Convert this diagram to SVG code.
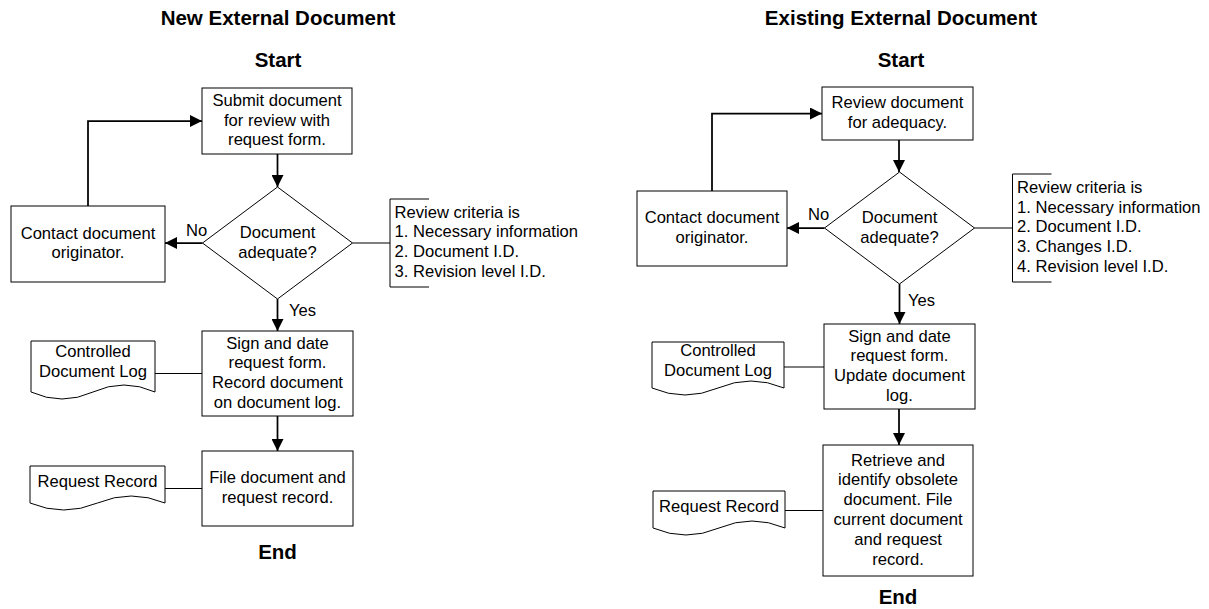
<svg xmlns="http://www.w3.org/2000/svg" width="1209" height="609" viewBox="0 0 1209 609">
  <style>
    .box { fill: #ffffff; stroke: #000000; stroke-width: 1; }
    .t { font-family: "Liberation Sans", Arial, sans-serif; font-size: 16.6px; fill: #000000; }
    .c { text-anchor: middle; }
    .h { font-family: "Liberation Sans", Arial, sans-serif; font-size: 20.5px; font-weight: bold; fill: #000000; text-anchor: middle; }
    .flow { fill: none; stroke: #000000; stroke-width: 1.75; }
    .link { fill: none; stroke: #000000; stroke-width: 1.2; }
    .brk { fill: none; stroke: #000000; stroke-width: 1; }
  </style>
  <defs>
    <marker id="arrow" markerUnits="userSpaceOnUse" markerWidth="12" markerHeight="12" refX="12" refY="6" orient="auto">
      <path d="M0,0 L12,6 L0,12 Z" fill="#000000"/>
    </marker>
  </defs>

  <rect x="0" y="0" width="1209" height="609" fill="#ffffff"/>

  <!-- ===== New External Document ===== -->
  <g id="new-headings">
    <text class="h" x="278" y="25">New External Document</text>
    <text class="h" x="278" y="67">Start</text>
    <text class="h" x="277.5" y="559">End</text>
  </g>

  <g id="new-submit">
    <rect class="box" x="202" y="88" width="150" height="66"/>
    <text class="t c" x="277" y="105.7">Submit document</text>
    <text class="t c" x="277" y="125.5">for review with</text>
    <text class="t c" x="277" y="145.3">request form.</text>
  </g>

  <g id="new-decision">
    <polygon class="box" points="277.5,187 352.5,243 277.5,299 202.5,243"/>
    <text class="t c" x="277.5" y="238">Document</text>
    <text class="t c" x="277.5" y="257.8">adequate?</text>
  </g>

  <g id="new-contact">
    <rect class="box" x="11" y="206" width="154" height="76"/>
    <text class="t c" x="88" y="238.6">Contact document</text>
    <text class="t c" x="88" y="258.4">originator.</text>
  </g>

  <g id="new-criteria">
    <path class="brk" d="M429,199 H390 V287 H429"/>
    <text class="t" x="394.5" y="217.5">Review criteria is</text>
    <text class="t" x="394.5" y="237.3">1. Necessary information</text>
    <text class="t" x="394.5" y="257.1">2. Document I.D.</text>
    <text class="t" x="394.5" y="276.9">3. Revision level I.D.</text>
  </g>

  <g id="new-sign">
    <rect class="box" x="202" y="331" width="151" height="85"/>
    <text class="t c" x="277.5" y="348.5">Sign and date</text>
    <text class="t c" x="277.5" y="368.3">request form.</text>
    <text class="t c" x="277.5" y="388.1">Record document</text>
    <text class="t c" x="277.5" y="407.9">on document log.</text>
  </g>

  <g id="new-log">
    <path class="box" d="M31,341 H155 V392 Q124,378 93,392 Q62,406 31,392 Z"/>
    <text class="t c" x="93" y="357">Controlled</text>
    <text class="t c" x="93" y="376.8">Document Log</text>
  </g>

  <g id="new-file">
    <rect class="box" x="202" y="451" width="151" height="75"/>
    <text class="t c" x="277.5" y="483.2">File document and</text>
    <text class="t c" x="277.5" y="503">request record.</text>
  </g>

  <g id="new-record">
    <path class="box" d="M30,466 H165 V503 Q131.25,489 97.5,503 Q63.75,517 30,503 Z"/>
    <text class="t c" x="97.5" y="487">Request Record</text>
  </g>

  <!-- ===== Existing External Document ===== -->
  <g id="existing-headings">
    <text class="h" x="901" y="25">Existing External Document</text>
    <text class="h" x="901" y="67">Start</text>
    <text class="h" x="898" y="604">End</text>
  </g>

  <g id="existing-review">
    <rect class="box" x="822" y="87" width="151" height="53"/>
    <text class="t c" x="897.5" y="108.4">Review document</text>
    <text class="t c" x="897.5" y="128.2">for adequacy.</text>
  </g>

  <g id="existing-decision">
    <polygon class="box" points="899.5,172 974.5,228 899.5,284 824.5,228"/>
    <text class="t c" x="899.5" y="222.8">Document</text>
    <text class="t c" x="899.5" y="242.6">adequate?</text>
  </g>

  <g id="existing-contact">
    <rect class="box" x="637" y="191" width="150" height="75"/>
    <text class="t c" x="712" y="222.8">Contact document</text>
    <text class="t c" x="712" y="242.6">originator.</text>
  </g>

  <g id="existing-criteria">
    <path class="brk" d="M1051.5,174 H1012.5 V282 H1051.5"/>
    <text class="t" x="1017" y="192.7">Review criteria is</text>
    <text class="t" x="1017" y="212.5">1. Necessary information</text>
    <text class="t" x="1017" y="232.3">2. Document I.D.</text>
    <text class="t" x="1017" y="252.1">3. Changes I.D.</text>
    <text class="t" x="1017" y="271.9">4. Revision level I.D.</text>
  </g>

  <g id="existing-sign">
    <rect class="box" x="824" y="324" width="151" height="85"/>
    <text class="t c" x="899.5" y="341.5">Sign and date</text>
    <text class="t c" x="899.5" y="361.3">request form.</text>
    <text class="t c" x="899.5" y="381.1">Update document</text>
    <text class="t c" x="899.5" y="400.9">log.</text>
  </g>

  <g id="existing-log">
    <path class="box" d="M652,342 H784 V388 Q751,374 718,388 Q685,402 652,388 Z"/>
    <text class="t c" x="718" y="356">Controlled</text>
    <text class="t c" x="718" y="375.8">Document Log</text>
  </g>

  <g id="existing-retrieve">
    <rect class="box" x="823" y="445" width="150" height="131"/>
    <text class="t c" x="898" y="465.5">Retrieve and</text>
    <text class="t c" x="898" y="485.3">identify obsolete</text>
    <text class="t c" x="898" y="505.1">document. File</text>
    <text class="t c" x="898" y="524.9">current document</text>
    <text class="t c" x="898" y="544.7">and request</text>
    <text class="t c" x="898" y="564.5">record.</text>
  </g>

  <g id="existing-record">
    <path class="box" d="M653,491 H785 V528 Q752,514 719,528 Q686,542 653,528 Z"/>
    <text class="t c" x="719" y="511.5">Request Record</text>
  </g>

  <!-- ===== Connectors ===== -->
  <g id="connectors">
    <!-- new document flow -->
    <line class="flow" x1="277.5" y1="154" x2="277.5" y2="187" marker-end="url(#arrow)"/>
    <line class="flow" x1="202.5" y1="243" x2="165" y2="243" marker-end="url(#arrow)"/>
    <polyline class="flow" points="88,206 88,121 202,121" marker-end="url(#arrow)"/>
    <line class="link" x1="352.5" y1="243" x2="390" y2="243"/>
    <line class="flow" x1="277.5" y1="299" x2="277.5" y2="331" marker-end="url(#arrow)"/>
    <line class="link" x1="155" y1="373.5" x2="202" y2="373.5"/>
    <line class="flow" x1="277.5" y1="416" x2="277.5" y2="451" marker-end="url(#arrow)"/>
    <line class="link" x1="165" y1="488.5" x2="202" y2="488.5"/>
    <text class="t" x="186" y="236">No</text>
    <text class="t" x="289" y="315.5">Yes</text>

    <!-- existing document flow -->
    <line class="flow" x1="899" y1="140" x2="899" y2="172" marker-end="url(#arrow)"/>
    <line class="flow" x1="824.5" y1="228" x2="787" y2="228" marker-end="url(#arrow)"/>
    <polyline class="flow" points="712,191 712,113.5 822,113.5" marker-end="url(#arrow)"/>
    <line class="link" x1="974.5" y1="228" x2="1012.5" y2="228"/>
    <line class="flow" x1="899.5" y1="284" x2="899.5" y2="324" marker-end="url(#arrow)"/>
    <line class="link" x1="784" y1="367" x2="824" y2="367"/>
    <line class="flow" x1="899" y1="409" x2="899" y2="445" marker-end="url(#arrow)"/>
    <line class="link" x1="785" y1="510.5" x2="823" y2="510.5"/>
    <text class="t" x="808" y="220">No</text>
    <text class="t" x="908" y="306">Yes</text>
  </g>
</svg>
